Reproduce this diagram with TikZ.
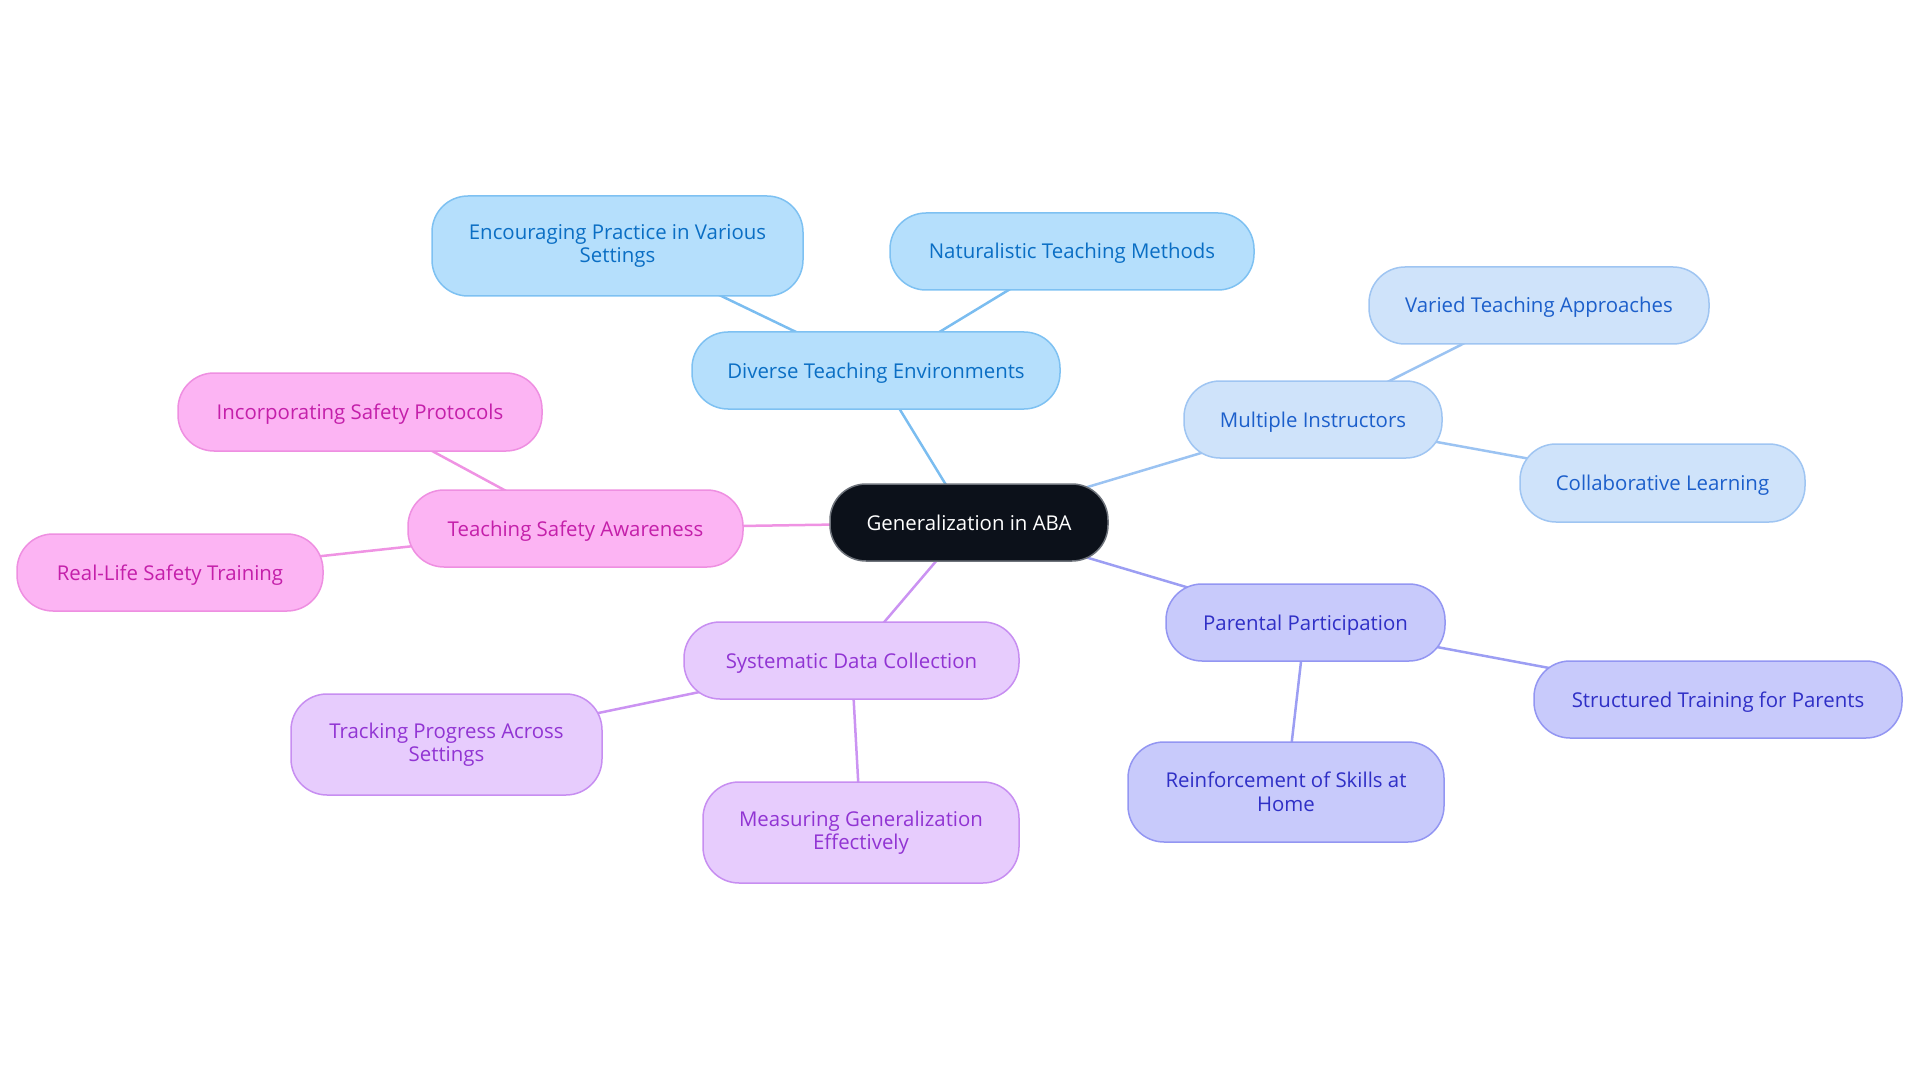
\documentclass[tikz,border=0pt]{standalone}
\usepackage{fontspec}
\setmainfont{Open Sans}
\usetikzlibrary{backgrounds}
\definecolor{rootfill}{HTML}{0C111A}
\definecolor{rootdraw}{HTML}{6E737B}
\definecolor{bfill}{HTML}{B5DFFC}\definecolor{bdraw}{HTML}{7EC1F2}\definecolor{btext}{HTML}{0A6EC4}\definecolor{bline}{HTML}{7BBDF0}
\definecolor{lfill}{HTML}{CFE3FA}\definecolor{ldraw}{HTML}{9FC5F2}\definecolor{ltext}{HTML}{1C5FCB}\definecolor{lline}{HTML}{9BC3F2}
\definecolor{ifill}{HTML}{C8CAFB}\definecolor{idraw}{HTML}{9396F2}\definecolor{itext}{HTML}{2F2FC6}\definecolor{iline}{HTML}{9C9EF3}
\definecolor{pfill}{HTML}{E7CCFD}\definecolor{pdraw}{HTML}{C78EF1}\definecolor{ptext}{HTML}{9134D3}\definecolor{pline}{HTML}{CB93F2}
\definecolor{mfill}{HTML}{FCB4F3}\definecolor{mdraw}{HTML}{EE8FE1}\definecolor{mtext}{HTML}{C41FAA}\definecolor{mline}{HTML}{EF93E3}
\begin{document}
\begin{tikzpicture}[x=1pt,y=-1pt,
  box/.style={rounded corners=36pt, line width=1.5pt, align=center, inner sep=0pt,
    font=\fontsize{20.4}{23.5}\selectfont},
  one/.style={text height=17pt, text depth=2pt},
  rootbox/.style={box, fill=rootfill, draw=rootdraw, text=white},
  bbox/.style={box, fill=bfill, draw=bdraw, text=btext},
  lbox/.style={box, fill=lfill, draw=ldraw, text=ltext},
  ibox/.style={box, fill=ifill, draw=idraw, text=itext},
  pbox/.style={box, fill=pfill, draw=pdraw, text=ptext},
  mbox/.style={box, fill=mfill, draw=mdraw, text=mtext},
  conn/.style={line width=2.5pt}]
\useasboundingbox (0,0) rectangle (1920,1083);
\node[rootbox, one, minimum width=278pt, minimum height=77pt] (root) at (969,522.5) {Generalization in ABA};
\node[bbox, one, minimum width=368pt, minimum height=77pt] (div) at (876,370.5) {Diverse Teaching Environments};
\node[bbox, minimum width=371pt, minimum height=100pt] (enc) at (617.5,246) {Encouraging Practice in Various\\Settings};
\node[bbox, one, minimum width=364pt, minimum height=77pt] (nat) at (1072,251.5) {Naturalistic Teaching Methods};
\node[lbox, one, minimum width=258pt, minimum height=77pt] (mul) at (1313,419.5) {Multiple Instructors};
\node[lbox, one, minimum width=340pt, minimum height=77pt] (var) at (1539,305.5) {Varied Teaching Approaches};
\node[lbox, one, minimum width=285pt, minimum height=78pt] (col) at (1662.5,483) {Collaborative Learning};
\node[ibox, one, minimum width=279pt, minimum height=77pt] (par) at (1305.5,622.5) {Parental Participation};
\node[ibox, one, minimum width=368pt, minimum height=77pt] (str) at (1718,699.5) {Structured Training for Parents};
\node[ibox, minimum width=316pt, minimum height=100pt] (rei) at (1286,792) {Reinforcement of Skills at\\Home};
\node[pbox, one, minimum width=335pt, minimum height=77pt] (sys) at (851.5,660.5) {Systematic Data Collection};
\node[pbox, minimum width=311pt, minimum height=101pt] (tra) at (446.5,744.5) {Tracking Progress Across\\Settings};
\node[pbox, minimum width=316pt, minimum height=101pt] (mea) at (861,832.5) {Measuring Generalization\\Effectively};
\node[mbox, one, minimum width=335pt, minimum height=77pt] (tsa) at (575.5,528.5) {Teaching Safety Awareness};
\node[mbox, one, minimum width=364pt, minimum height=78pt] (inc) at (360,412) {Incorporating Safety Protocols};
\node[mbox, one, minimum width=306pt, minimum height=77pt] (rls) at (170,572.5) {Real-Life Safety Training};
\begin{scope}[on background layer]
\draw[conn, bline] (root.center) -- (div.center);
\draw[conn, bline] (div.center) -- (enc.center);
\draw[conn, bline] (div.center) -- (nat.center);
\draw[conn, lline] (root.center) -- (mul.center);
\draw[conn, lline] (mul.center) -- (var.center);
\draw[conn, lline] (mul.center) -- (col.center);
\draw[conn, iline] (root.center) -- (par.center);
\draw[conn, iline] (par.center) -- (str.center);
\draw[conn, iline] (par.center) -- (rei.center);
\draw[conn, pline] (root.center) -- (sys.center);
\draw[conn, pline] (sys.center) -- (tra.center);
\draw[conn, pline] (sys.center) -- (mea.center);
\draw[conn, mline] (root.center) -- (tsa.center);
\draw[conn, mline] (tsa.center) -- (inc.center);
\draw[conn, mline] (tsa.center) -- (rls.center);
\end{scope}
\end{tikzpicture}
\end{document}
